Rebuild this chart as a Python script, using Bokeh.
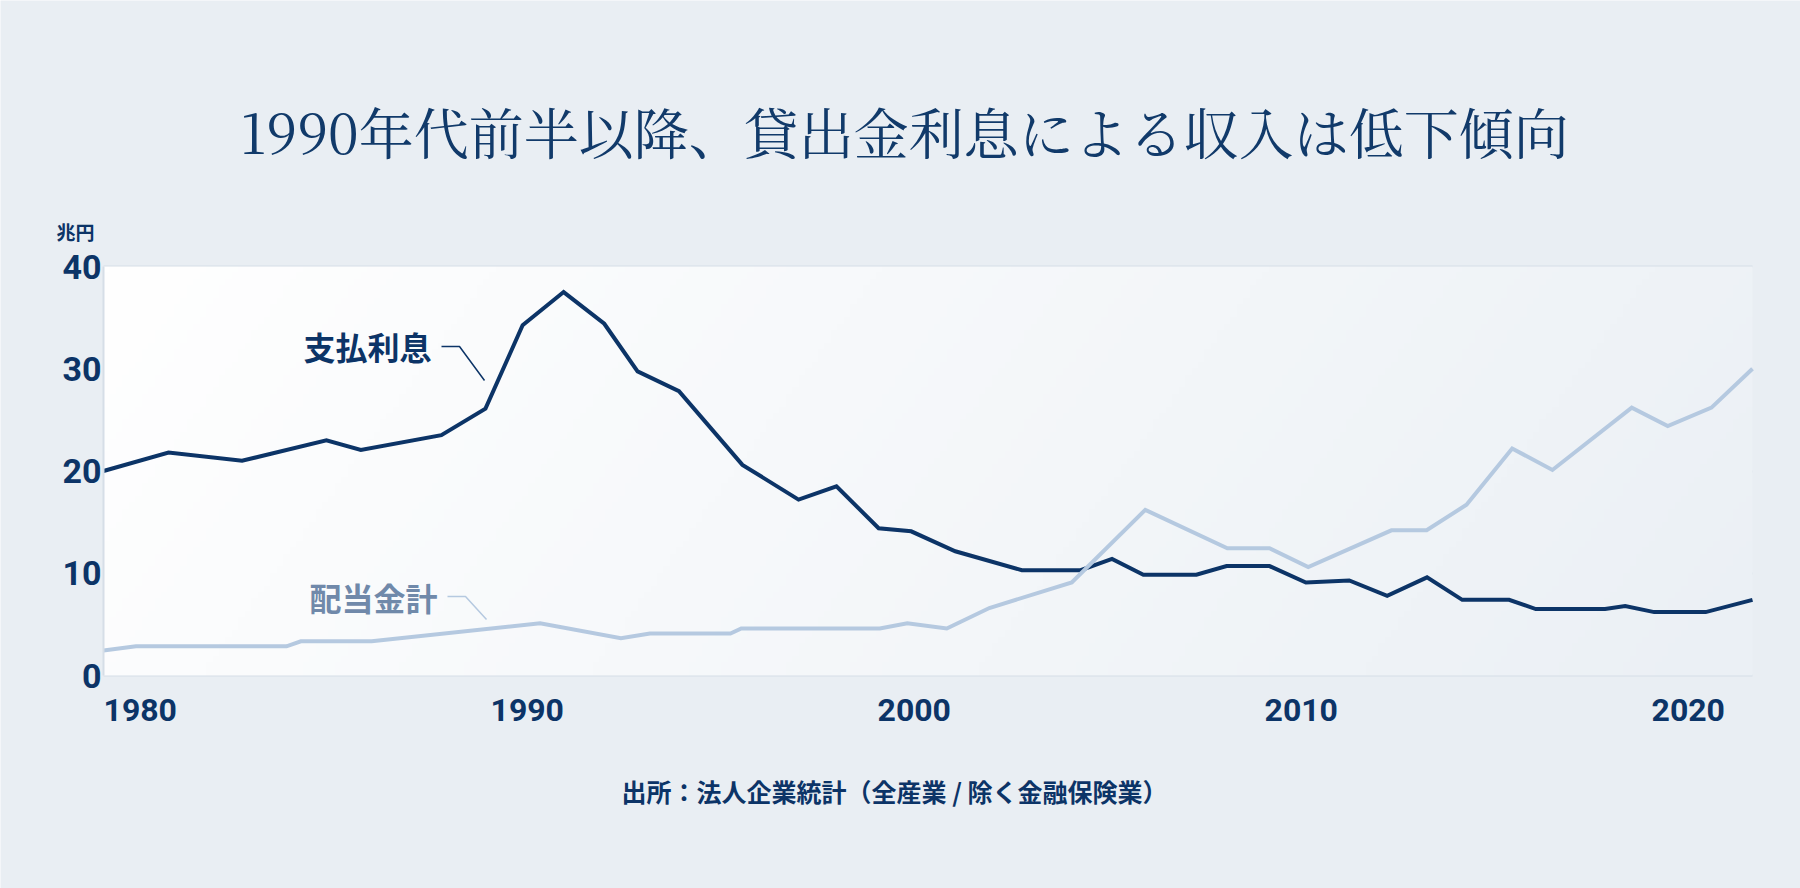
import numpy as np
from bokeh.plotting import figure
from bokeh.models import Range1d, FixedTicker, Label, Grid
from bokeh.embed import file_html
from bokeh.resources import INLINE

# ---------------- data ----------------
interest_years = [1979.05, 1980.73, 1982.63, 1984.81, 1985.70, 1987.78, 1988.92, 1989.88,
                  1990.94, 1991.99, 1992.85, 1993.92, 1995.56, 1997.01, 1997.99, 1999.08,
                  1999.92, 2001.06, 2002.78, 2004.30, 2005.11, 2005.92, 2007.29, 2008.07,
                  2009.18, 2010.12, 2011.24, 2012.22, 2013.25, 2014.16, 2015.37, 2016.06,
                  2017.85, 2018.37, 2019.12, 2020.45, 2021.66]
interest_values = [20.0, 21.8, 21.0, 23.0, 22.05, 23.5, 26.1, 34.25,
                   37.5, 34.4, 29.75, 27.8, 20.6, 17.2, 18.5, 14.4,
                   14.1, 12.15, 10.3, 10.3, 11.4, 9.85, 9.85, 10.7,
                   10.7, 9.1, 9.3, 7.8, 9.6, 7.4, 7.4, 6.5,
                   6.5, 6.8, 6.2, 6.2, 7.4]

dividend_years = [1979.05, 1979.89, 1983.78, 1984.15, 1985.98, 1990.33, 1992.42, 1993.17,
                  1995.25, 1995.53, 1999.11, 1999.82, 2000.84, 2001.94, 2004.07, 2005.97,
                  2008.09, 2009.18, 2010.18, 2012.33, 2013.24, 2014.27, 2015.45, 2016.49,
                  2018.54, 2019.47, 2020.60, 2021.66]
dividend_values = [2.45, 2.85, 2.85, 3.35, 3.35, 5.1, 3.65, 4.1,
                   4.1, 4.6, 4.6, 5.1, 4.6, 6.6, 9.1, 16.2,
                   12.45, 12.45, 10.6, 14.2, 14.2, 16.7, 22.2, 20.1,
                   26.2, 24.4, 26.2, 30.0]

x_ticks = [1980, 1990, 2000, 2010, 2020]
y_ticks = [0, 10, 20, 30, 40]

title_text = "1990年代前半以降、貸出金利息による収入は低下傾向"
unit_text = "兆円"
interest_label = "支払利息"
dividend_label = "配当金計"
source_text = "出所：法人企業統計（全産業 / 除く金融保険業）"

# ---------------- layout ----------------
W, H = 1800, 888
FL, FR, FT, FB = 103, 1752, 266, 675   # data area edges in page pixels
X0, X1 = 1979.05, 2021.66
Y0, Y1 = 0, 40

NAVY = "#0c3467"
LIGHT = "#b5c9e0"
GRID = "#d6dee7"
BG = "#e9eef3"
CJK = "Noto Sans CJK JP"


def dx(px):
    return X0 + (px - FL) / (FR - FL) * (X1 - X0)


def dy(py):
    return Y0 + (FB - py) / (FB - FT) * (Y1 - Y0)


# the frame fills the whole canvas; axes are pinned at the data edges
p = figure(width=W, height=H, x_range=Range1d(dx(0), dx(W)), y_range=Range1d(dy(H), dy(0)),
           output_backend="svg", toolbar_location=None,
           min_border_left=0, min_border_right=0, min_border_top=0, min_border_bottom=0)
p.background_fill_color = BG
p.border_fill_color = BG
p.outline_line_color = None

# subtle gradient in data area
nx, ny = 256, 64
gx = np.linspace(0, 1, nx)[None, :]
gy = np.linspace(0, 1, ny)[:, None]
t = np.clip(0.85 * gx + 0.15 * (1 - gy), 0, 1)
c0 = np.array([255, 255, 255])
c1 = np.array([235, 240, 245])
img = np.empty((ny, nx), dtype=np.uint32)
view = img.view(dtype=np.uint8).reshape((ny, nx, 4))
for k in range(3):
    view[:, :, k] = (c0[k] + (c1[k] - c0[k]) * t).astype(np.uint8)
view[:, :, 3] = 255
p.image_rgba(image=[img], x=X0, y=Y0, dw=X1 - X0, dh=Y1 - Y0)

# grid lines limited to the data area
p.xgrid.visible = False
if "cross_bounds" in Grid.properties():
    p.ygrid.ticker = FixedTicker(ticks=y_ticks)
    p.ygrid.cross_bounds = (X0, X1)
    p.ygrid.grid_line_color = GRID
    p.ygrid.grid_line_width = 2
else:
    p.ygrid.visible = False
    p.segment(x0=[X0] * len(y_ticks), y0=y_ticks, x1=[X1] * len(y_ticks), y1=y_ticks,
              line_color=GRID, line_width=2)

# axes
yax = p.yaxis[0]
yax.fixed_location = X0
yax.bounds = (Y0, Y1)
yax.ticker = FixedTicker(ticks=y_ticks)
yax.axis_line_color = GRID
yax.axis_line_width = 2
yax.major_tick_line_color = None
yax.minor_tick_line_color = None
yax.major_label_standoff = -4
yax.major_label_text_font = "Roboto"
yax.major_label_text_font_style = "bold"
yax.major_label_text_font_size = "34px"
yax.major_label_text_color = NAVY

xax = p.xaxis[0]
xax.fixed_location = Y0
xax.bounds = (X0, X1)
xax.ticker = FixedTicker(ticks=x_ticks)
xax.axis_line_color = None
xax.major_tick_line_color = None
xax.minor_tick_line_color = None
xax.major_label_standoff = 17
xax.major_label_text_font = "Roboto"
xax.major_label_text_font_style = "bold"
xax.major_label_text_font_size = "32px"
xax.major_label_text_color = NAVY

# series
p.line(interest_years, interest_values, line_color=NAVY, line_width=4, line_join="miter")
p.line(dividend_years, dividend_values, line_color=LIGHT, line_width=4, line_join="miter")

# series labels with leader lines
p.add_layout(Label(x=dx(431), y=dy(345), text=interest_label, text_align="right",
                   text_baseline="middle", text_font=CJK, text_font_style="bold",
                   text_font_size="32px", text_color=NAVY))
p.line([dx(441), dx(459), dx(484)], [dy(346), dy(346), dy(380)], line_color=NAVY, line_width=1.5)

p.add_layout(Label(x=dx(437), y=dy(596), text=dividend_label, text_align="right",
                   text_baseline="middle", text_font=CJK, text_font_style="bold",
                   text_font_size="32px", text_color="#7089aa"))
p.line([dx(447), dx(465), dx(486)], [dy(596), dy(596), dy(619)], line_color=LIGHT, line_width=1.5)

# title, unit, source
p.add_layout(Label(x=dx(904), y=dy(130), text=title_text, text_align="center",
                   text_baseline="middle", text_font="Noto Serif CJK JP",
                   text_font_size="55px", text_color="#113a6a"))
p.add_layout(Label(x=dx(56), y=dy(231), text=unit_text, text_align="left",
                   text_baseline="middle", text_font=CJK, text_font_style="bold",
                   text_font_size="19px", text_color=NAVY))
p.add_layout(Label(x=dx(894), y=dy(790), text=source_text, text_align="center",
                   text_baseline="middle", text_font=CJK, text_font_style="bold",
                   text_font_size="25px", text_color=NAVY))

open("out.html", "w").write(file_html(p, INLINE))
